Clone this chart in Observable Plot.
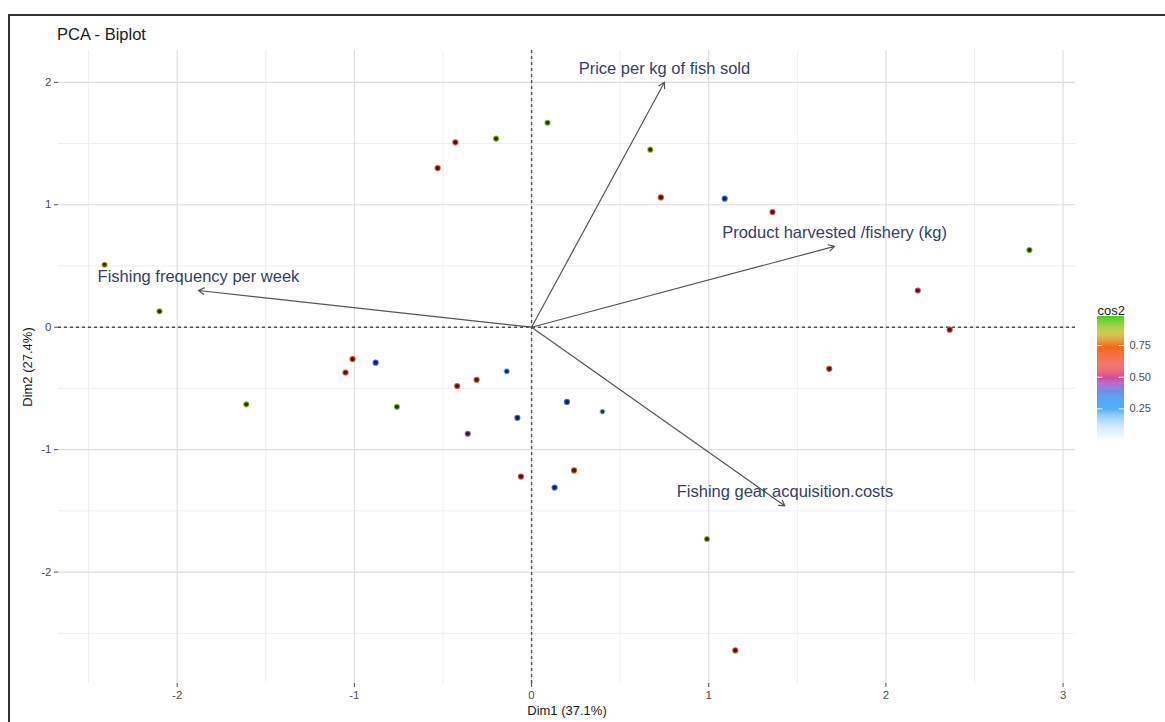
<!DOCTYPE html>
<html><head><meta charset="utf-8">
<script src="https://cdn.jsdelivr.net/npm/d3@7"></script>
<script src="https://cdn.jsdelivr.net/npm/@observablehq/plot@0.6"></script>
<style>
body{margin:0;background:#fff;font-family:"Liberation Sans",Arial,sans-serif;}
#wrap{position:relative;width:1165px;height:722px;overflow:hidden;background:#fff;}
#frame{position:absolute;left:8px;top:14px;width:1175px;height:725px;border:2px solid #333;box-sizing:border-box;pointer-events:none;}
#title{position:absolute;left:57px;top:25px;font-size:16.5px;color:#1a1a1a;}
#chart{position:absolute;left:0;top:0;}
#legend{position:absolute;left:1080px;top:296px;}
</style></head><body>
<div id="wrap"><div id="chart"></div><div id="legend"></div><div id="frame"></div><div id="title">PCA - Biplot</div></div>
<script>
// Individuals (Dim1, Dim2, cos2)
const indX = [-0.20, 0.09, -0.43, -0.53, 0.67, 0.73, 1.09, 1.36, 2.81, 2.18, 2.36, 1.68, -2.41, -2.10, -1.61, -1.05, -1.01, -0.88, -0.76, -0.42, -0.31, -0.14, -0.08, -0.36, 0.20, 0.40, -0.06, 0.24, 0.13, 0.99, 1.15];
const indY = [1.54, 1.67, 1.51, 1.30, 1.45, 1.06, 1.05, 0.94, 0.63, 0.30, -0.02, -0.34, 0.51, 0.13, -0.63, -0.37, -0.26, -0.29, -0.65, -0.48, -0.43, -0.36, -0.74, -0.87, -0.61, -0.69, -1.22, -1.17, -1.31, -1.73, -2.64];
const indCos2 = [0.90, 0.92, 0.58, 0.62, 0.86, 0.63, 0.36, 0.60, 0.93, 0.52, 0.62, 0.62, 0.85, 0.90, 0.90, 0.60, 0.65, 0.38, 0.90, 0.60, 0.66, 0.22, 0.38, 0.45, 0.36, 0.12, 0.60, 0.66, 0.36, 0.88, 0.60];

// Variables (arrows)
const varNames = ["Price per kg of fish sold", "Product harvested /fishery (kg)", "Fishing frequency per week", "Fishing gear acquisition.costs"];
const varX = [0.75, 1.71, -1.88, 1.43];
const varY = [2.00, 0.66, 0.30, -1.46];

// Ticks
const xTicks = [-2, -1, 0, 1, 2, 3];
const yTicks = [-2, -1, 0, 1, 2];
const xMinor = [-2.5, -1.5, -0.5, 0.5, 1.5, 2.5];
const yMinor = [-2.5, -1.5, -0.5, 0.5, 1.5];
const legendTicks = [0.25, 0.5, 0.75];

// cos2 gradient
const colorStops = [0, 0.1, 0.2, 0.3, 0.38, 0.46, 0.54, 0.64, 0.74, 0.84, 0.97];
const colorRange = ["#ffffff", "#c8e6fd", "#78c2fb", "#2c9af4", "#3470e8", "#c44fc0", "#ea4a6a", "#f04a1e", "#f46a16", "#c8b41a", "#48d41c"];

const ind = indX.map((x, i) => ({x, y: indY[i], cos2: indCos2[i]}));
const vars = varNames.map((name, i) => ({name, x: varX[i], y: varY[i]}));
const colorOpts = {type: "linear", domain: colorStops, range: colorRange, interpolate: "rgb"};

const font = "Liberation Sans, Arial, sans-serif";
const intFmt = d => String(d);

const chart = Plot.plot({
  width: 1165, height: 722,
  marginLeft: 58, marginRight: 90, marginTop: 50, marginBottom: 39,
  x: {domain: [-2.67, 3.07]},
  y: {domain: [-2.91, 2.26]},
  color: colorOpts,
  style: {fontFamily: font, background: "transparent", overflow: "visible"},
  marks: [
    Plot.gridX(xMinor, {stroke: "#eeeeee", strokeOpacity: 1, strokeWidth: 1}),
    Plot.gridY(yMinor, {stroke: "#eeeeee", strokeOpacity: 1, strokeWidth: 1}),
    Plot.gridX(xTicks, {stroke: "#dcdcdc", strokeOpacity: 1, strokeWidth: 1.1}),
    Plot.gridY(yTicks, {stroke: "#dcdcdc", strokeOpacity: 1, strokeWidth: 1.1}),
    Plot.ruleX([0], {stroke: "#505050", strokeDasharray: "3,3", strokeWidth: 1.4}),
    Plot.ruleY([0], {stroke: "#505050", strokeDasharray: "3,3", strokeWidth: 1.4}),
    Plot.axisX(xTicks, {tickSize: 4, tickPadding: 3, fontSize: 11.5, color: "#4d4d4d", tickFormat: intFmt, label: null}),
    Plot.axisX({ticks: [], tickSize: 0, label: "Dim1 (37.1%)", labelAnchor: "center", labelArrow: "none", labelOffset: 31, fontSize: 13, color: "#1a1a1a"}),
    Plot.axisY(yTicks, {tickSize: 4, tickPadding: 3, fontSize: 11.5, color: "#4d4d4d", tickFormat: intFmt, label: null}),
    Plot.axisY({ticks: [], tickSize: 0, label: "Dim2 (27.4%)", labelAnchor: "center", labelArrow: "none", labelOffset: 36, fontSize: 13, color: "#1a1a1a"}),
    Plot.dot(ind, {x: "x", y: "y", r: 3.1, fill: "cos2", stroke: "none"}),
    Plot.dot(ind, {x: "x", y: "y", r: 2.1, fill: "#151515", fillOpacity: 0.85, stroke: "none"}),
    Plot.arrow(vars, {x1: 0, y1: 0, x2: "x", y2: "y", stroke: "#555", strokeWidth: 1.2, headLength: 8, headAngle: 60, bend: 0}),
    Plot.text(vars, {x: "x", y: "y", text: "name", dy: -14, fontSize: 16.5, fill: "#34406a", fontFamily: font})
  ]
});
document.getElementById("chart").append(chart);

// Legend: vertical colour bar
const lo = 0, hi = 0.98, nSlices = 120;
const slices = d3.range(nSlices).map(i => ({v1: lo + (hi - lo) * i / nSlices, v2: lo + (hi - lo) * (i + 1) / nSlices}));
const legend = Plot.plot({
  width: 85, height: 154,
  marginLeft: 17, marginRight: 41, marginTop: 20, marginBottom: 10,
  x: {domain: [0, 1], axis: null},
  y: {domain: [lo, hi]},
  color: colorOpts,
  style: {fontFamily: font, background: "transparent", overflow: "visible"},
  marks: [
    Plot.rect(slices, {x1: 0, x2: 1, y1: "v1", y2: "v2", fill: d => (d.v1 + d.v2) / 2, stroke: "none", inset: 0}),
    Plot.ruleY(legendTicks, {x1: 0, x2: 0.2, stroke: "white", strokeWidth: 1}),
    Plot.ruleY(legendTicks, {x1: 0.8, x2: 1, stroke: "white", strokeWidth: 1}),
    Plot.axisY(legendTicks, {anchor: "right", tickSize: 0, tickPadding: 5, fontSize: 11, color: "#4d4d4d", label: null, tickFormat: d3.format(".2f")}),
    Plot.text(["cos2"], {frameAnchor: "top-left", dy: -11, text: d => d, textAnchor: "start", fontSize: 13, fill: "#1a1a1a"})
  ]
});
document.getElementById("legend").append(legend);
</script>
</body></html>
